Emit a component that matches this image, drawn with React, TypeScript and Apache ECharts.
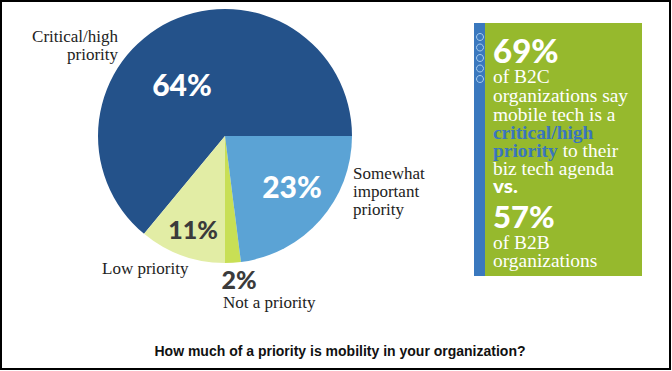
import React, { useEffect, useRef } from "react";
import * as echarts from "echarts";

const categories = ["Critical/high\npriority", "Low priority", "Not a priority", "Somewhat\nimportant\npriority"];
const values = [64, 11, 2, 23];
const sliceColors = ["#24528a", "#e2eda5", "#c8df55", "#5ba3d5"];
const pctColors = ["#ffffff", "#3b3b3b", "#3b3b3b", "#ffffff"];
const pctSizes = [30, 25, 25, 30];
const pctPos = [[182, 84], [193, 229], [239, 279], [292, 186]];
const namePos = [[118, 45.5, "right"], [102, 268, "left"], [223, 302, "left"], [353, 191, "left"]];

const calloutBig1 = "69%";
const calloutLines1 = ["of B2C", "organizations say", "mobile tech is a"];
const calloutHighlight = ["critical/high", "priority"];
const calloutRest = [" to their", "biz tech agenda"];
const calloutVs = "vs.";
const calloutBig2 = "57%";
const calloutLines2 = ["of B2B", "organizations"];
const title = "How much of a priority is mobility in your organization?";

export default function App() {
  const ref = useRef<HTMLDivElement>(null);
  useEffect(() => {
    const chart = echarts.init(ref.current!, null, { renderer: "svg" });
    const serif = "'Liberation Serif', 'DejaVu Serif', serif";
    const heavy = "Lato, Roboto, sans-serif";
    const bx = 493;
    const sx = 1.08;
    const bodyStyle = (text: string, y: number) => ({
      type: "text",
      x: bx,
      y,
      scaleX: sx,
      style: { text, fill: "#ffffff", font: `18px ${serif}`, verticalAlign: "middle", align: "left" },
    });
    const circles = [37, 47.5, 58, 68.5, 79].map((cy) => ({
      type: "circle",
      shape: { cx: 480, cy, r: 3.5 },
      style: { fill: "none", stroke: "#a9cdee", lineWidth: 1 },
    }));
    chart.setOption({
      animation: false,
      backgroundColor: "#ffffff",
      series: [
        {
          type: "pie",
          center: [225, 136],
          radius: 127,
          startAngle: 0,
          clockwise: false,
          silent: true,
          itemStyle: { borderWidth: 0 },
          labelLine: { show: false },
          data: values.map((v, i) => ({
            name: categories[i],
            value: v,
            itemStyle: { color: sliceColors[i] },
            label: {
              show: true,
              position: "inside",
              formatter: "{c}%",
              color: pctColors[i],
              fontFamily: heavy,
              fontWeight: 900,
              fontSize: pctSizes[i],
            },
          })),
          labelLayout: (p: any) => ({
            x: pctPos[p.dataIndex][0],
            y: pctPos[p.dataIndex][1],
            align: "center",
            verticalAlign: "middle",
          }),
        },
        {
          type: "pie",
          center: [225, 136],
          radius: 127,
          startAngle: 0,
          clockwise: false,
          silent: true,
          z: 5,
          itemStyle: { color: "transparent" },
          labelLine: { show: false },
          data: values.map((v, i) => ({
            name: categories[i],
            value: v,
            label: {
              show: true,
              position: "inside",
              formatter: "{b}",
              color: "#222222",
              fontFamily: serif,
              fontSize: 17,
              lineHeight: 18,
              align: namePos[i][2],
            },
          })),
          labelLayout: (p: any) => ({
            x: namePos[p.dataIndex][0],
            y: namePos[p.dataIndex][1],
            align: namePos[p.dataIndex][2],
            verticalAlign: "middle",
          }),
        },
      ],
      graphic: [
        {
          type: "rect",
          shape: { x: 1, y: 1, width: 669, height: 368 },
          style: { fill: "none", stroke: "#000000", lineWidth: 2 },
        },
        { type: "rect", shape: { x: 474, y: 23, width: 168, height: 253 }, style: { fill: "#96b92d" } },
        { type: "rect", shape: { x: 474, y: 23, width: 11, height: 253 }, style: { fill: "#3a78be" } },
        ...circles,
        {
          type: "text",
          x: bx,
          y: 50,
          style: { text: calloutBig1, fill: "#ffffff", font: `900 33px ${heavy}`, verticalAlign: "middle" },
        },
        bodyStyle(calloutLines1[0], 77),
        bodyStyle(calloutLines1[1], 96),
        bodyStyle(calloutLines1[2], 115),
        {
          type: "text",
          x: bx,
          y: 133,
          scaleX: sx,
          style: { text: calloutHighlight[0], fill: "#3a76bd", font: `bold 18px ${serif}`, verticalAlign: "middle" },
        },
        {
          type: "text",
          x: bx,
          y: 151,
          scaleX: sx,
          style: {
            text: `{b|${calloutHighlight[1]}}{w|${calloutRest[0]}}`,
            verticalAlign: "middle",
            rich: {
              b: { fill: "#3a76bd", font: `bold 18px ${serif}` },
              w: { fill: "#ffffff", font: `18px ${serif}` },
            },
          },
        },
        bodyStyle(calloutRest[1], 169),
        {
          type: "text",
          x: bx,
          y: 186.5,
          scaleX: 1.15,
          style: { text: calloutVs, fill: "#ffffff", font: `900 18px ${heavy}`, verticalAlign: "middle" },
        },
        {
          type: "text",
          x: bx,
          y: 216,
          style: { text: calloutBig2, fill: "#ffffff", font: `900 31px ${heavy}`, verticalAlign: "middle" },
        },
        bodyStyle(calloutLines2[0], 243),
        bodyStyle(calloutLines2[1], 261),
        {
          type: "text",
          x: 340,
          y: 351,
          style: {
            text: title,
            fill: "#111111",
            font: "bold 14px 'Liberation Sans', Arial, sans-serif",
            align: "center",
            verticalAlign: "middle",
          },
        },
      ],
    });
    return () => chart.dispose();
  }, []);
  return <div ref={ref} style={{ position: "absolute", left: 0, top: 0, width: 672, height: 371 }} />;
}
